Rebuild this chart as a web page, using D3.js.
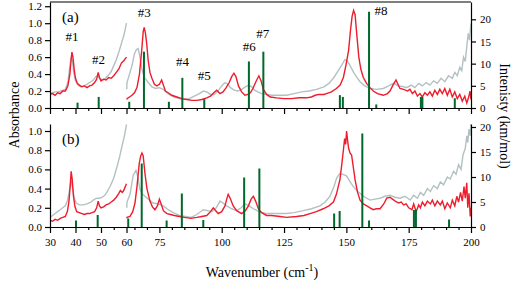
<!DOCTYPE html>
<html>
<head>
<meta charset="utf-8">
<script src="https://cdn.jsdelivr.net/npm/d3@7"></script>
<style>
  body { margin: 0; background: #fff; }
  .axis text { font-family: "Liberation Serif", serif; font-size: 11px; fill: #000; }
  .axis path, .axis line { stroke: #000; stroke-width: 1.2; }
</style>
</head>
<body>
<div id="canvas"></div>
<script>
// Dimensions
var w = 521;
var h = 282;

// x ticks
var xMajor = [30, 40, 50, 60, 75, 100, 125, 150, 175, 200];
var xMinor = [35, 45, 55, 65, 70, 80, 85, 90, 95, 105, 110, 115, 120, 130, 135, 140, 145, 155, 160, 165, 170, 180, 185, 190, 195];
var absTicksA = [0, 0.2, 0.4, 0.6, 0.8, 1.0, 1.2];
var absTicksB = [0, 0.2, 0.4, 0.6, 0.8, 1.0];
var intTicks = [0, 5, 10, 15, 20];

// Panel (a) absorbance, 30-60 and 60-200 pieces
var redA1 = [[30,0.16],[31,0.17],[32,0.15],[33,0.18],[34,0.17],[35,0.2],[36,0.2],[37,0.26],[37.8,0.4],[38.3,0.58],[38.6,0.66],[39,0.6],[39.5,0.45],[40,0.35],[40.7,0.29],[41.5,0.27],[42.5,0.25],[43.5,0.26],[44.5,0.24],[45.5,0.26],[46.5,0.27],[47.5,0.3],[48.3,0.34],[48.9,0.42],[49.4,0.36],[50,0.32],[51,0.34],[52,0.33],[53,0.36],[54,0.35],[55,0.38],[56,0.42],[57,0.46],[58,0.53],[59,0.56],[60,0.6]];
var grayA1 = [[30,0.17],[31,0.18],[32,0.19],[33,0.19],[34,0.2],[35,0.21],[36,0.22],[37,0.3],[37.8,0.5],[38.4,0.6],[38.8,0.55],[39.3,0.42],[40,0.32],[41,0.27],[42,0.25],[43,0.26],[44,0.27],[45,0.29],[46,0.31],[47,0.33],[48,0.37],[48.6,0.38],[49.2,0.36],[50,0.34],[51,0.33],[52,0.36],[53,0.39],[54,0.43],[55,0.5],[56,0.57],[57,0.66],[58,0.76],[59,0.86],[60,1.0]];
var redA2 = [[61,0.1],[62,0.11],[63,0.13],[64,0.15],[65,0.18],[66,0.24],[67,0.4],[67.9,0.68],[68.5,0.9],[68.9,0.95],[69.4,0.88],[69.9,0.76],[70.5,0.56],[71.2,0.42],[72,0.35],[73,0.28],[74,0.26],[75,0.28],[75.9,0.33],[76.6,0.27],[77.4,0.2],[78.5,0.18],[80,0.15],[82,0.13],[84,0.11],[86,0.1],[88,0.09],[90,0.09],[92,0.1],[94,0.12],[95.5,0.14],[96.8,0.18],[98,0.21],[99.3,0.17],[100.5,0.19],[101.8,0.24],[103,0.3],[104,0.37],[104.9,0.41],[105.7,0.37],[106.7,0.26],[108,0.19],[109.3,0.15],[110.5,0.16],[111.5,0.18],[112.5,0.23],[113.7,0.31],[114.9,0.38],[115.8,0.32],[116.7,0.22],[118,0.16],[119.5,0.13],[122,0.12],[125,0.11],[128,0.11],[131,0.12],[134,0.12],[136,0.13],[137.5,0.15],[139,0.16],[141,0.16],[142,0.17],[144,0.19],[146,0.23],[147.5,0.27],[148.8,0.36],[149.8,0.5],[150.9,0.68],[151.6,0.9],[152.3,1.08],[152.9,1.15],[153.5,1.1],[154.2,0.86],[155,0.6],[155.8,0.46],[156.8,0.36],[158.1,0.29],[159.5,0.24],[160.8,0.2],[162.5,0.17],[164.8,0.15],[166.5,0.17],[167.5,0.2],[168.7,0.27],[169.9,0.33],[170.7,0.28],[171.5,0.23],[173,0.22],[174.5,0.2],[175.5,0.22],[176.5,0.17],[177.5,0.2],[178.5,0.14],[179.5,0.17],[180.5,0.13],[181.5,0.18],[182.5,0.15],[183.5,0.19],[184.5,0.14],[185.5,0.21],[186.5,0.16],[187.5,0.22],[188.5,0.17],[189.5,0.23],[190.5,0.15],[191.5,0.22],[192.5,0.13],[193.5,0.19],[194.5,0.11],[195.5,0.16],[196.5,0.08],[197.5,0.14],[198.3,0.06],[199,0.12],[199.6,0.2],[200,0.1]];
var grayA2 = [[61,0.22],[62,0.3],[63,0.4],[64,0.5],[65,0.64],[65.8,0.69],[66.5,0.7],[67.2,0.6],[67.9,0.47],[69,0.36],[70.5,0.3],[72,0.25],[73.5,0.23],[75,0.24],[76.5,0.22],[78,0.18],[79.5,0.15],[81,0.13],[83,0.11],[85,0.1],[87,0.11],[89,0.14],[91,0.17],[92.6,0.2],[94,0.19],[95.5,0.16],[97,0.16],[98.5,0.2],[100,0.26],[101.3,0.3],[102.5,0.28],[103.5,0.24],[105,0.21],[106.5,0.2],[108,0.22],[109.5,0.25],[110.9,0.27],[112,0.25],[113.2,0.21],[114.5,0.19],[116,0.17],[118,0.16],[120,0.15],[123,0.15],[126,0.15],[129,0.17],[132,0.19],[135,0.2],[138,0.22],[141,0.25],[143,0.29],[145,0.36],[146.5,0.43],[148,0.5],[149.4,0.57],[150.5,0.55],[151.5,0.5],[152.9,0.42],[154.2,0.36],[155.5,0.31],[157,0.27],[159.4,0.23],[162,0.22],[164.8,0.23],[167,0.26],[168.9,0.29],[171,0.26],[173,0.25],[174.2,0.24],[176,0.27],[177.5,0.24],[179,0.29],[180.5,0.26],[182,0.3],[183.5,0.27],[185,0.32],[186.5,0.29],[188,0.35],[189.5,0.31],[191,0.38],[192.5,0.35],[193.5,0.42],[194.5,0.38],[195.5,0.48],[196.3,0.44],[197,0.6],[197.7,0.55],[198.4,0.75],[198.9,0.88],[199.4,0.8],[200,1.0]];

// Panel (b) absorbance
var redB1 = [[30,0.07],[31,0.06],[32,0.08],[33,0.07],[34,0.09],[35,0.1],[36,0.11],[36.8,0.16],[37.4,0.26],[37.9,0.42],[38.3,0.58],[38.7,0.5],[39.2,0.32],[39.8,0.21],[40.5,0.16],[41.5,0.15],[42.5,0.14],[43.5,0.13],[44.5,0.14],[45.5,0.14],[46.5,0.15],[47.5,0.16],[48.3,0.2],[48.9,0.27],[49.4,0.22],[50,0.2],[51,0.21],[52,0.23],[53,0.24],[54,0.26],[55,0.28],[56,0.31],[57,0.35],[57.6,0.38],[58.3,0.36],[58.9,0.38],[59.5,0.42],[60,0.45]];
var grayB1 = [[30,0.1],[31,0.12],[32,0.14],[33,0.16],[34,0.18],[35,0.2],[36,0.22],[36.8,0.27],[37.5,0.36],[38,0.45],[38.4,0.47],[38.9,0.4],[39.5,0.3],[40.3,0.25],[41.5,0.23],[43,0.23],[44.5,0.24],[46,0.26],[47.5,0.29],[48.5,0.3],[49.5,0.3],[50.5,0.31],[51.5,0.33],[52.5,0.37],[53.7,0.43],[55,0.51],[56.3,0.63],[57.3,0.73],[58.3,0.85],[59.2,0.95],[60,1.07]];
var redB2 = [[61,0.09],[62,0.1],[63.2,0.11],[64.3,0.16],[65.2,0.25],[66,0.42],[66.9,0.66],[67.5,0.74],[68,0.77],[68.5,0.74],[69.2,0.56],[70,0.4],[71.2,0.27],[72.2,0.21],[73.2,0.18],[74.2,0.22],[75,0.29],[75.7,0.24],[76.6,0.17],[78,0.14],[79.5,0.13],[81,0.12],[83,0.11],[85,0.1],[87.7,0.09],[90,0.1],[92,0.11],[94,0.12],[95.5,0.16],[96.6,0.2],[97.6,0.17],[98.6,0.14],[100,0.16],[101.3,0.22],[102,0.29],[102.6,0.34],[103.4,0.3],[104.6,0.22],[106,0.17],[108,0.14],[109.5,0.17],[110.7,0.22],[111.8,0.29],[112.7,0.32],[113.6,0.27],[114.7,0.19],[116,0.15],[118,0.12],[120,0.12],[123.4,0.11],[126,0.1],[130,0.11],[133,0.12],[135.4,0.14],[138,0.16],[140.7,0.19],[143,0.22],[144.8,0.26],[146,0.34],[147.4,0.49],[148.2,0.66],[148.8,0.8],[149.3,0.92],[149.7,0.86],[150.1,1.0],[150.5,0.9],[150.9,0.82],[151.5,0.77],[152.1,0.75],[152.8,0.62],[153.5,0.49],[154.5,0.36],[155.5,0.28],[156.8,0.24],[158.2,0.22],[159.5,0.2],[160.8,0.18],[162,0.19],[163.5,0.19],[165,0.24],[166.2,0.3],[167.5,0.31],[168.5,0.29],[169.6,0.27],[171,0.25],[172,0.26],[173,0.23],[174,0.24],[175,0.2],[176.3,0.18],[177,0.24],[178,0.16],[179,0.23],[179.7,0.2],[180.5,0.26],[181.5,0.22],[182.5,0.27],[183.7,0.24],[184.5,0.28],[185.5,0.22],[186.5,0.27],[187.7,0.23],[188.5,0.27],[189.5,0.19],[190.5,0.25],[191.7,0.2],[192.5,0.28],[193.5,0.22],[194.3,0.32],[195,0.26],[195.8,0.36],[196.5,0.27],[197.2,0.42],[197.7,0.3],[198.3,0.46],[198.7,0.2],[199.2,0.35],[199.7,0.11],[200,0.2]];
var grayB2 = [[61,0.2],[62,0.26],[63.2,0.34],[64.5,0.54],[65.6,0.59],[66.4,0.52],[67.1,0.4],[68,0.35],[69.2,0.32],[71,0.28],[72.5,0.25],[74.5,0.24],[76.6,0.22],[78.5,0.18],[80.6,0.15],[83,0.12],[85.5,0.11],[87.7,0.1],[90,0.13],[92.6,0.18],[94.3,0.17],[96,0.16],[97.8,0.2],[99.3,0.27],[100.5,0.25],[102,0.22],[104,0.19],[106,0.17],[107.8,0.2],[109.3,0.24],[111,0.22],[112.7,0.19],[115,0.16],[118,0.14],[122,0.14],[126,0.14],[129,0.15],[132.7,0.17],[136,0.19],[139.4,0.22],[141.5,0.26],[143.4,0.32],[145,0.42],[146.1,0.51],[147.4,0.56],[149.4,0.54],[150.1,0.53],[151.5,0.47],[152.8,0.42],[154.2,0.38],[155.5,0.35],[157.5,0.31],[159.5,0.28],[161.5,0.29],[163.5,0.3],[165.5,0.32],[167.5,0.33],[169.5,0.31],[171.6,0.3],[173.5,0.32],[175.6,0.28],[177,0.33],[178.5,0.3],[179.7,0.36],[181,0.33],[182.5,0.4],[183.7,0.37],[185,0.43],[186.5,0.4],[187.7,0.47],[189,0.44],[190.5,0.52],[191.7,0.5],[193,0.58],[194,0.55],[195,0.65],[196,0.6],[196.8,0.75],[197.7,0.82],[198.3,0.95],[198.7,0.88],[199.2,1.02],[199.7,0.95],[200,1.1]];

// calculated modes (km/mol)
var freqA = [40.8, 49.1, 62.9, 68.8, 78.8, 84.2, 93.0, 110.9, 116.7, 147.4, 148.6, 159.1, 162.0, 179.9, 180.5, 193.5];
var intA = [1.2, 2.5, 1.4, 12.7, 1.4, 6.8, 2.0, 10.5, 12.7, 2.9, 2.5, 21.7, 0.8, 2.5, 2.5, 2.2];
var freqB = [40.2, 48.7, 62.5, 67.9, 77.9, 84.0, 92.6, 109.0, 115.1, 145.1, 147.3, 156.4, 159.1, 177.1, 177.9, 191.2];
var intB = [1.3, 2.4, 1.7, 12.7, 1.3, 6.7, 1.4, 9.9, 11.7, 2.7, 3.2, 18.7, 1.3, 3.4, 3.4, 1.5];

// peak labels (panel a)
var peakNames = ["#1", "#2", "#3", "#4", "#5", "#6", "#7", "#8"];
var peakFreq = [38.6, 49.0, 68.9, 84.3, 93.0, 111.0, 116.5, 163.9];
var peakAbs = [0.79, 0.52, 1.07, 0.49, 0.33, 0.67, 0.83, 1.1];

var svg = d3.select("#canvas")
    .append("svg")
    .attr("width", w)
    .attr("height", h);

// broken x axis: 30-60 and 62-200
var x = d3.scaleLinear()
    .domain([30, 60, 62, 200])
    .range([50, 126.5, 127, 471]);

var panels = [
    {name: "a", top: 2, bottom: 108, absMax: 1.25, intMax: 23.9, absTicks: absTicksA,
     red: [redA1, redA2], gray: [grayA1, grayA2], freq: freqA, inten: intA, labels: false},
    {name: "b", top: 124, bottom: 227, absMax: 1.073, intMax: 20.6, absTicks: absTicksB,
     red: [redB1, redB2], gray: [grayB1, grayB2], freq: freqB, inten: intB, labels: true}
];

panels.forEach(function(p, i) {
    var yAbs = d3.scaleLinear().domain([0, p.absMax]).range([p.bottom, p.top]);
    var yInt = d3.scaleLinear().domain([0, p.intMax]).range([p.bottom, p.top]);

    svg.append("clipPath").attr("id", "clip" + i)
        .append("rect")
        .attr("x", 50).attr("y", p.top)
        .attr("width", 421).attr("height", p.bottom - p.top);

    var g = svg.append("g").attr("clip-path", "url(#clip" + i + ")");
    var line = d3.line().x(d => x(d[0])).y(d => yAbs(d[1]));

    p.gray.forEach(function(seg) {
        g.append("path").datum(seg)
            .attr("d", line)
            .attr("fill", "none")
            .attr("stroke", "#b3c1c3")
            .attr("stroke-width", 1.4);
    });
    p.red.forEach(function(seg) {
        g.append("path").datum(seg)
            .attr("d", line)
            .attr("fill", "none")
            .attr("stroke", "#ee1c2c")
            .attr("stroke-width", 1.4);
    });

    // sticks
    g.selectAll("rect.stick")
        .data(p.freq)
        .join("rect")
        .attr("class", "stick")
        .attr("x", d => x(d) - 1)
        .attr("width", 2)
        .attr("y", (d, j) => yInt(p.inten[j]))
        .attr("height", (d, j) => p.bottom - yInt(p.inten[j]))
        .attr("fill", "#00692c");

    // axes
    var xAxis = svg.append("g").attr("class", "axis")
        .attr("transform", "translate(0," + p.bottom + ")")
        .call(d3.axisBottom(x).tickValues(xMajor).tickSizeInner(6).tickSizeOuter(0).tickPadding(5));
    if (!p.labels) xAxis.selectAll("text").remove();
    svg.append("g").attr("class", "axis")
        .attr("transform", "translate(0," + p.bottom + ")")
        .call(d3.axisBottom(x).tickValues(xMinor).tickSize(3).tickFormat(""))
        .select(".domain").remove();

    svg.append("g").attr("class", "axis")
        .attr("transform", "translate(50,0)")
        .call(d3.axisLeft(yAbs).tickValues(p.absTicks).tickFormat(d3.format(".1f")).tickSizeInner(5).tickSizeOuter(0).tickPadding(3));

    svg.append("g").attr("class", "axis")
        .attr("transform", "translate(471,0)")
        .call(d3.axisRight(yInt).tickValues(intTicks).tickSizeInner(5).tickSizeOuter(0).tickPadding(4));

    svg.append("text")
        .attr("x", 62).attr("y", p.top + 20)
        .attr("font-family", "Liberation Serif, serif")
        .attr("font-size", 15)
        .text("(" + p.name + ")");

    if (i === 0) {
        svg.append("line")
            .attr("x1", 50).attr("x2", 471)
            .attr("y1", p.top).attr("y2", p.top)
            .attr("stroke", "#000").attr("stroke-width", 1.2);

        svg.selectAll("text.peak")
            .data(peakNames)
            .join("text")
            .attr("class", "peak")
            .attr("x", (d, j) => x(peakFreq[j]))
            .attr("y", (d, j) => yAbs(peakAbs[j]))
            .attr("text-anchor", "middle")
            .attr("font-family", "Liberation Serif, serif")
            .attr("font-size", 13)
            .text(d => d);
    }
});

// axis titles
svg.append("text")
    .attr("transform", "translate(19,115) rotate(-90)")
    .attr("text-anchor", "middle")
    .attr("font-family", "Liberation Serif, serif")
    .attr("font-size", 14)
    .text("Absorbance");

svg.append("text")
    .attr("transform", "translate(500,116) rotate(90)")
    .attr("text-anchor", "middle")
    .attr("font-family", "Liberation Serif, serif")
    .attr("font-size", 14)
    .text("Intenisty (km/mol)");

var xt = svg.append("text")
    .attr("x", 262).attr("y", 277)
    .attr("text-anchor", "middle")
    .attr("font-family", "Liberation Serif, serif")
    .attr("font-size", 14);
xt.append("tspan").text("Wavenumber (cm");
xt.append("tspan").attr("dy", -6).attr("font-size", 10).text("-1");
xt.append("tspan").attr("dy", 6).text(")");
</script>
</body>
</html>
